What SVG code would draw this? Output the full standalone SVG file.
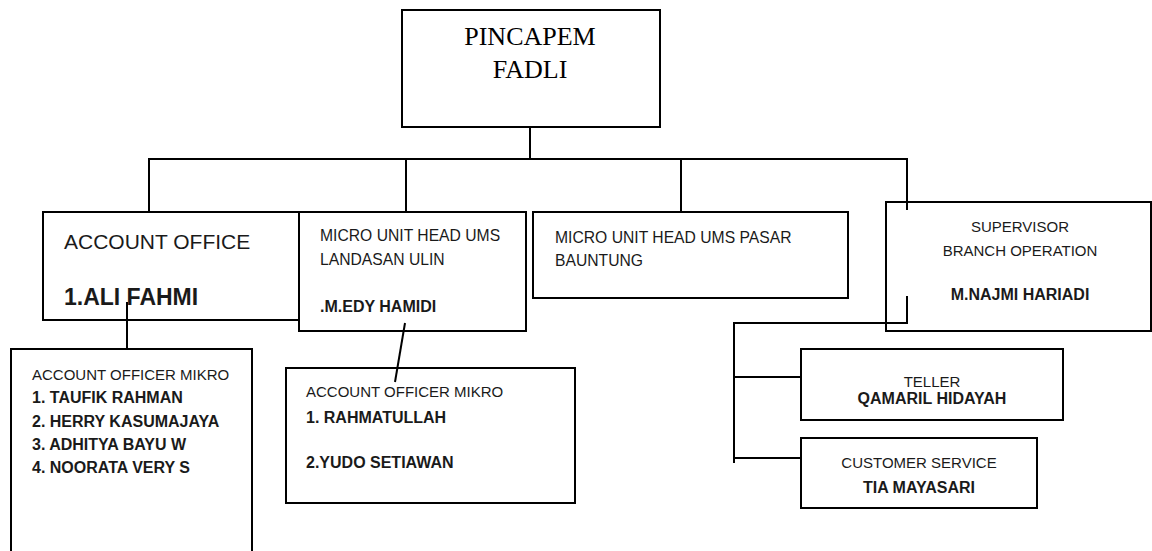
<svg xmlns="http://www.w3.org/2000/svg" width="1152" height="551" viewBox="0 0 1152 551">
<style>
.box{fill:#fff;stroke:#000;stroke-width:2}
.ln{stroke:#000;stroke-width:2;fill:none}
.s{font-family:"Liberation Sans",Arial,sans-serif;fill:#1a1a1a}
.b{font-weight:bold;font-size:16px}
.t{font-family:"Liberation Serif","Times New Roman",serif;fill:#000}
</style>
<rect width="1152" height="551" fill="#fff"/>
<g id="connectors">
<line class="ln" x1="530" y1="127" x2="530" y2="159"/>
<line class="ln" x1="148" y1="159" x2="908" y2="159"/>
<line class="ln" x1="149" y1="159" x2="149" y2="212"/>
<line class="ln" x1="406" y1="159" x2="406" y2="212"/>
<line class="ln" x1="681" y1="159" x2="681" y2="212"/>
</g>
<g id="pincapem">
<rect class="box" x="402" y="10" width="258" height="117"/>
<text class="t" x="530" y="45" font-size="26" text-anchor="middle">PINCAPEM</text>
<text class="t" x="530" y="78" font-size="26" text-anchor="middle">FADLI</text>
</g>
<g id="account-office">
<rect class="box" x="43" y="212" width="256" height="108"/>
<text class="s" x="64" y="249" font-size="21">ACCOUNT OFFICE</text>
<text class="s" x="64" y="305" font-size="23" font-weight="bold">1.ALI FAHMI</text>
</g>
<g id="micro-landasan">
<rect class="box" x="299" y="212" width="227" height="119"/>
<text class="s" x="320" y="241" font-size="15.7">MICRO UNIT HEAD UMS</text>
<text class="s" x="320" y="265" font-size="15.7">LANDASAN ULIN</text>
<text class="s b" x="320" y="312">.M.EDY HAMIDI</text>
</g>
<g id="micro-pasar">
<rect class="box" x="533" y="212" width="315" height="86"/>
<text class="s" x="555" y="243" font-size="15.7">MICRO UNIT HEAD UMS PASAR</text>
<text class="s" x="555" y="266" font-size="15.7">BAUNTUNG</text>
</g>
<g id="supervisor">
<rect class="box" x="886" y="202" width="265" height="129"/>
<text class="s" x="1020" y="232" font-size="15" text-anchor="middle">SUPERVISOR</text>
<text class="s" x="1020" y="256" font-size="15" text-anchor="middle">BRANCH OPERATION</text>
<text class="s b" x="1020" y="300" text-anchor="middle">M.NAJMI HARIADI</text>
</g>
<g id="ao-mikro-1">
<rect class="box" x="11" y="349" width="241" height="215"/>
<text class="s" x="32" y="380" font-size="15">ACCOUNT OFFICER MIKRO</text>
<text class="s b" x="32" y="403">1. TAUFIK RAHMAN</text>
<text class="s b" x="32" y="427">2. HERRY KASUMAJAYA</text>
<text class="s b" x="32" y="450">3. ADHITYA BAYU W</text>
<text class="s b" x="32" y="473">4. NOORATA VERY S</text>
</g>
<g id="ao-mikro-2">
<rect class="box" x="286" y="368" width="289" height="135"/>
<text class="s" x="306" y="397" font-size="15">ACCOUNT OFFICER MIKRO</text>
<text class="s b" x="306" y="423">1. RAHMATULLAH</text>
<text class="s b" x="306" y="468">2.YUDO SETIAWAN</text>
</g>
<g id="teller">
<rect class="box" x="801" y="349" width="262" height="71"/>
<text class="s" x="932" y="387" font-size="15" text-anchor="middle">TELLER</text>
<text class="s b" x="932" y="404" text-anchor="middle">QAMARIL HIDAYAH</text>
</g>
<g id="customer-service">
<rect class="box" x="801" y="438" width="236" height="70"/>
<text class="s" x="919" y="468" font-size="15" text-anchor="middle">CUSTOMER SERVICE</text>
<text class="s b" x="919" y="493" text-anchor="middle">TIA MAYASARI</text>
</g>
<g id="connectors-front">
<line class="ln" x1="907" y1="159" x2="907" y2="210"/>
<line class="ln" x1="127" y1="302" x2="127" y2="349"/>
<line class="ln" x1="405" y1="323" x2="395" y2="382"/>
<polyline class="ln" points="907,296 907,323 734,323 734,463"/>
<line class="ln" x1="734" y1="377" x2="801" y2="377"/>
<line class="ln" x1="734" y1="458" x2="801" y2="458"/>
</g>
</svg>
